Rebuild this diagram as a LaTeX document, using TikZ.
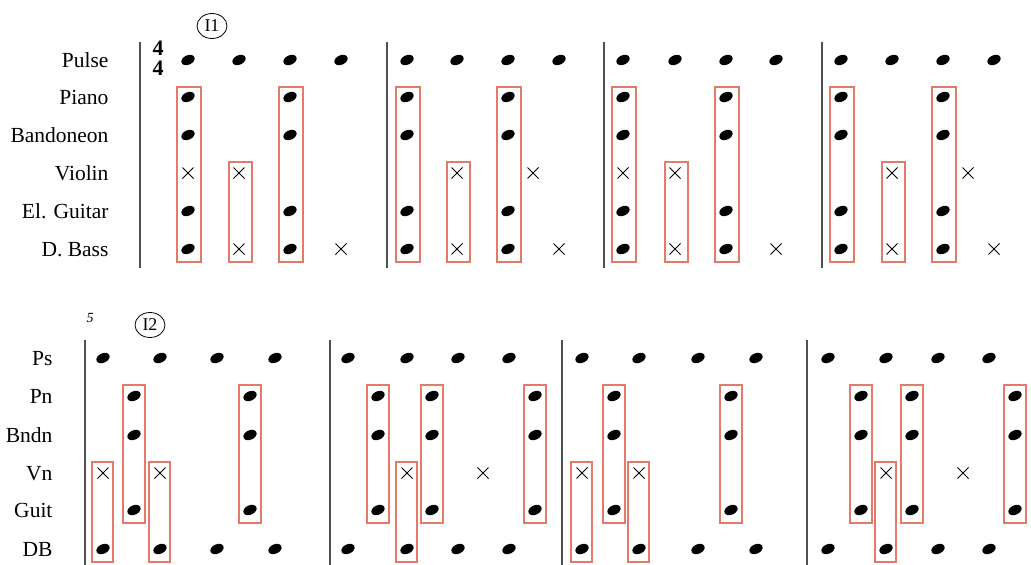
\documentclass[tikz,border=0pt]{standalone}
\usepackage{fontspec}
\setmainfont{Liberation Serif}
\usetikzlibrary{shapes.geometric}
\definecolor{boxred}{RGB}{228,122,106}
\definecolor{barline}{RGB}{80,80,80}

\begin{document}
\begin{tikzpicture}[x=1pt,y=-1pt,
  lbl/.style={anchor=base east,font=\fontsize{21.5}{21.5}\selectfont},
  meter/.style={inner sep=0pt,align=center,font=\fontsize{22}{20}\bfseries},
  hitbox/.style={draw=boxred,line width=1.5pt},
  bar/.style={draw=barline,line width=1.3pt},
  rehearsal/.style={draw,ellipse,line width=.8pt,minimum width=30pt,minimum height=25pt,inner sep=0pt,font=\fontsize{18}{18}\selectfont},
  notehead/.pic={\fill[rotate=25] (0,0) ellipse (7 and 4.7);},
  xhead/.pic={\draw[line width=1pt] (-5.5,-5.5)--(5.5,5.5) (-5.5,5.5)--(5.5,-5.5);}]
\useasboundingbox (0,0) rectangle (1031,565);

% first system
\foreach \t/\y [count=\i] in {Pulse/60,Piano/97,Bandoneon/135,Violin/173,El. Guitar/211,D. Bass/249}
  \node[lbl] (top\i) at (112,\y+7) {\t};
\foreach \x in {140,387,604,822} \draw[bar] (\x,42)--(\x,268);
\node[meter] (meter) at (158,58) {4\\4};
\node[rehearsal] (i1) at (212,26) {I1};
\foreach \x in {188,239,290,341,407,457,508,559,623,675,726,776,841,892,943,994}
  \pic at (\x,60) {notehead};
\foreach \x in {188,290,407,508,623,726,841,943}{
  \foreach \y in {97,135,211,249} \pic at (\x,\y) {notehead};
  \draw[hitbox] (\x-11,87) rectangle (\x+13,262);}
\foreach \x in {239,457,675,892}{
  \pic at (\x,173) {xhead}; \pic at (\x,249) {xhead};
  \draw[hitbox] (\x-10,162) rectangle (\x+13,262);}
\foreach \x/\y in {188/173,623/173,533/173,968/173,341/249,559/249,776/249,994/249}
  \pic at (\x,\y) {xhead};

% second system
\foreach \t/\y [count=\i] in {Ps/358,Pn/396,Bndn/435,Vn/473,Guit/510,DB/549}
  \node[lbl] (bot\i) at (56,\y+7) {\t};
\foreach \x in {85,330,562,807} \draw[bar] (\x,340)--(\x,565);
\node[font=\fontsize{14}{14}\itshape] (bar5) at (90,318) {5};
\node[rehearsal] (i2) at (150,325) {I2};
\foreach \x in {103,160,217,275,348,407,458,509,582,639,698,756,828,886,938,989}{
  \pic at (\x,358) {notehead}; \pic at (\x,549) {notehead};}
\foreach \x in {134,250,378,432,535,614,731,861,912,1015}{
  \foreach \y in {396,435,510} \pic at (\x,\y) {notehead};
  \draw[hitbox] (\x-11,385) rectangle (\x+11,523);}
\foreach \x in {103,160,407,582,639,886}{
  \pic at (\x,473) {xhead};
  \draw[hitbox] (\x-11,462) rectangle (\x+10,562);}
\foreach \x in {483,963} \pic at (\x,473) {xhead};
\end{tikzpicture}
\end{document}
